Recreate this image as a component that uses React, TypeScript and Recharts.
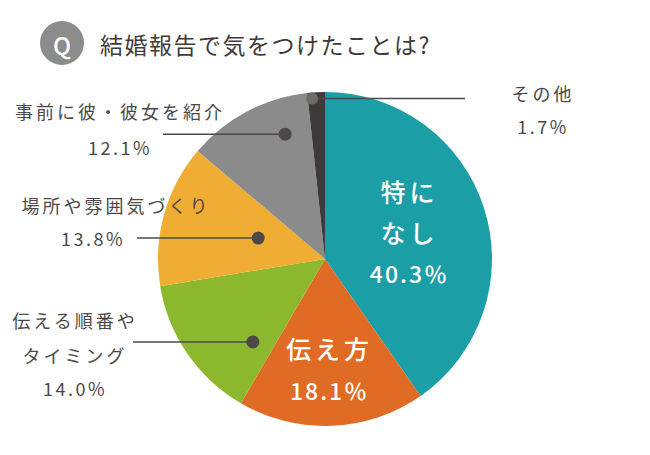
import React from 'react';
import { PieChart, Pie, Cell } from 'recharts';

const categories = ['特になし', '伝え方', '伝える順番やタイミング', '場所や雰囲気づくり', '事前に彼・彼女を紹介', 'その他'];
const shares = [40.3, 18.1, 14.0, 13.8, 12.1, 1.7];
const shareLabels = ['40.3％', '18.1％', '14.0%', '13.8%', '12.1%', '1.7%'];
const colours = ['#1b9ea5', '#e06b24', '#8bb82c', '#efae33', '#8b8b8b', '#3f3a39'];

const title = '結婚報告で気をつけたことは?';

const data = categories.map((name, i) => ({ name, value: shares[i], pct: shareLabels[i] }));

// placement of the annotation for each slice (inside labels sit on the slice's mid angle)
const layout: { [key: string]: any } = {
  '特になし': { inside: true, r: 0.53, lines: ['特に', 'なし'], lineGap: 41 },
  '伝え方': { inside: true, r: 0.66, lines: ['伝え方'], lineGap: 42 },
  '伝える順番やタイミング': { angle: 229, r: 110, lineTo: 133, tx: 75, ty: [320, 355, 388], lines: ['伝える順番や', 'タイミング'] },
  '場所や雰囲気づくり': { angle: 162.6, r: 70, lineTo: 137, tx: 116, ty: [205, 238], pctX: 93, lines: ['場所や雰囲気づくり'] },
  '事前に彼・彼女を紹介': { angle: 107.7, r: 131, lineTo: 163, tx: 120, ty: [111, 147], lines: ['事前に彼・彼女を紹介'] },
  'その他': { angle: 94.6, r: 161, lineTo: 465, tx: 543, ty: [93, 126], lines: ['その他'] },
};

const FONT = '"Noto Sans CJK JP", "Noto Sans", sans-serif';
const RAD = Math.PI / 180;

const renderLabel = (props: any) => {
  const { cx, cy, midAngle, outerRadius, payload } = props;
  const item = payload && payload.name ? payload : props;
  const cfg = layout[item.name];
  if (!cfg) return null;
  if (cfg.inside) {
    const r = outerRadius * cfg.r;
    const x = cx + r * Math.cos(-midAngle * RAD);
    const y = cy + r * Math.sin(-midAngle * RAD);
    const all = [...cfg.lines, item.pct];
    const start = y - ((all.length - 1) * cfg.lineGap) / 2;
    return (
      <g>
        {all.map((t: string, i: number) => (
          <text key={i} x={x} y={start + i * cfg.lineGap} fill="#ffffff" textAnchor="middle" dominantBaseline="central"
            fontFamily={FONT} fontSize={i < cfg.lines.length ? 25 : 23} fontWeight={500} letterSpacing={i < cfg.lines.length ? 4 : 2}>
            {t}
          </text>
        ))}
      </g>
    );
  }
  const dx = cx + cfg.r * Math.cos(cfg.angle * RAD);
  const dy = cy - cfg.r * Math.sin(cfg.angle * RAD);
  const all = [...cfg.lines, item.pct];
  const dark = item.name === 'その他';
  return (
    <g>
      <line x1={dx} y1={dy} x2={cfg.lineTo} y2={dy} stroke="#4d4848" strokeWidth={1.5} />
      <circle cx={dx} cy={dy} r={dark ? 6 : 6.5} fill={dark ? '#6e6b6b' : '#4d4848'} />
      {all.map((t: string, i: number) => (
        <text key={i} x={i === all.length - 1 && cfg.pctX ? cfg.pctX : cfg.tx} y={cfg.ty[i]} fill="#4d4848" textAnchor="middle"
          dominantBaseline="central" fontFamily={FONT} fontSize={18} fontWeight={400} letterSpacing={i === all.length - 1 ? 2.5 : 3}>
          {t}
        </text>
      ))}
    </g>
  );
};

export default function App() {
  return (
    <div style={{ position: 'absolute', left: 0, top: 0, width: 650, height: 455, background: '#fff' }}>
      <PieChart width={650} height={455} margin={{ top: 0, right: 0, bottom: 0, left: 0 }}>
        <Pie
          data={data}
          dataKey="value"
          nameKey="name"
          cx={325}
          cy={259}
          outerRadius={167}
          startAngle={90}
          endAngle={-270}
          stroke="none"
          label={renderLabel}
          labelLine={false}
          isAnimationActive={false}
        >
          {data.map((d, i) => (
            <Cell key={d.name} fill={colours[i]} />
          ))}
        </Pie>
        <circle cx={62} cy={43} r={22} fill="#8c8c8c" />
        <text x={62} y={44} fill="#ffffff" textAnchor="middle" dominantBaseline="central" fontFamily={FONT} fontSize={24} fontWeight={500}>
          Q
        </text>
        <text x={100} y={44} fill="#3f3a39" dominantBaseline="central" fontFamily={FONT} fontSize={23} fontWeight={400} letterSpacing={1.5}>
          {title}
        </text>
      </PieChart>
    </div>
  );
}
